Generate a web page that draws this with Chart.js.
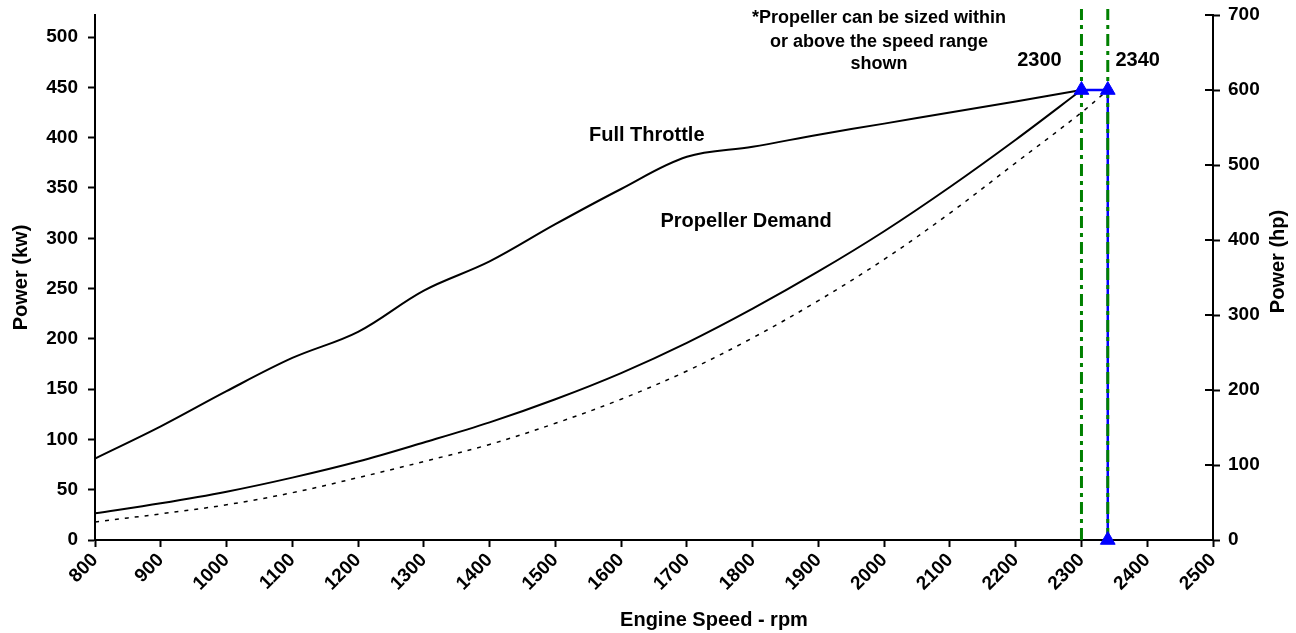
<!DOCTYPE html>
<html><head><meta charset="utf-8">
<script src="https://cdn.jsdelivr.net/npm/chart.js@4.4.0/dist/chart.umd.min.js"></script>
<style>html,body{margin:0;padding:0;background:#fff;}#wrap{width:1296px;height:633px;}</style>
</head><body><div id="wrap"><canvas id="c" width="1296" height="633"></canvas></div>
<script>
// ---- data ----
const rpm = [800,900,1000,1100,1200,1300,1400,1500,1600,1700,1800,1900,2000,2100,2200,2300];
const fullThrottleKw = [81,113,148,181,207,248,277,314,349,381,391,403,414,425,436,447.4];
const propDemandKw   = [26.5,36.5,48,62,78,97,117,140,166,196,230,267,307,351,398,447.4];
const propCubicRpm = [800,900,1000,1100,1200,1300,1400,1500,1600,1700,1800,1900,2000,2100,2200,2300,2340];
const propCubicKw  = [18,26,35,47,62,78,95,116,140,168,201,238,279,325,375,425,447.4];
const markerRpm = [2300,2340,2340];
const markerKw  = [447.4,447.4,0];
const limitRpm = [2300,2340];
const limitTopKw = 528;
const xTickMin = 800, xTickMax = 2500, xTickStep = 100;
const kwMax = 522, kwStep = 50;
const hpMax = 700, hpStep = 100;
const curveLabels = [
  {text:'Full Throttle', rpm:1639, kw:402.7},
  {text:'Propeller Demand', rpm:1790, kw:316.7}
];
const noteLines = ['*Propeller can be sized within','or above the speed range','shown'];
const noteKw = [518.7,495.5,473.3];
const noteRpm = 1992;
const limitLabels = [{text:'2300', rpm:2236, kw:476.3},{text:'2340', rpm:2385.5, kw:476.3}];
const xTitle = 'Engine Speed - rpm';
const yTitle = 'Power (kw)';
const y2Title = 'Power (hp)';

const FONT = '"Liberation Sans", Arial, Helvetica, sans-serif';
const pts = (xs, ys) => xs.map((v,i)=>({x:v, y:ys[i]}));

const textPlugin = {
  id:'texts',
  afterDraw(chart){
    const {ctx, scales:{x, y, y2}, chartArea:ca} = chart;
    ctx.save();
    ctx.fillStyle = '#000';
    ctx.textAlign = 'center';
    ctx.textBaseline = 'middle';
    ctx.font = `bold 20px ${FONT}`;
    curveLabels.forEach(l => ctx.fillText(l.text, x.getPixelForValue(l.rpm), y.getPixelForValue(l.kw)));
    limitLabels.forEach(l => ctx.fillText(l.text, x.getPixelForValue(l.rpm), y.getPixelForValue(l.kw)));
    ctx.font = `bold 18px ${FONT}`;
    noteLines.forEach((t,i) => ctx.fillText(t, x.getPixelForValue(noteRpm), y.getPixelForValue(noteKw[i])));
    ctx.font = `bold 20px ${FONT}`;
    ctx.fillText(xTitle, ca.left + 619, ca.bottom + 80);
    ctx.save();
    ctx.translate(21, (ca.top + ca.bottom)/2);
    ctx.rotate(-Math.PI/2);
    ctx.fillText(yTitle, 0, 0);
    ctx.restore();
    ctx.save();
    ctx.translate(ca.right + 65, (ca.top + ca.bottom)/2 - 16);
    ctx.rotate(-Math.PI/2);
    ctx.fillText(y2Title, 0, 0);
    ctx.restore();
    ctx.strokeStyle = '#000';
    ctx.lineWidth = 2;
    y2.ticks.forEach(t => {
      const py = y2.getPixelForValue(t.value);
      ctx.beginPath(); ctx.moveTo(ca.right - 8, py); ctx.lineTo(ca.right, py); ctx.stroke();
    });
    ctx.restore();
  }
};

const tickFont = {family: FONT, size: 19, weight: 'bold'};
const gridCfg = {drawOnChartArea:false, drawTicks:true, tickLength:7, tickColor:'#000', tickWidth:2};
const borderCfg = {display:true, color:'#000', width:2};
const plain = v => String(v);
const fitY = w => function(s){ s.width = w; s.paddingTop = 0; s.paddingBottom = 0; };

new Chart(document.getElementById('c'), {
  type: 'line',
  data: {
    datasets: [
      {label:'markers', data: pts(markerRpm, markerKw), showLine:false, pointStyle:'triangle',
       pointRadius:8.5, pointBackgroundColor:'#0000ff', pointBorderColor:'#0000ff', pointBorderWidth:1, order:0, yAxisID:'y', clip:false},
      {label:'limit2300', data: pts([limitRpm[0],limitRpm[0]],[0,limitTopKw]), borderColor:'#008000', borderWidth:3,
       borderDash:[12,5,4,5], pointRadius:0, clip:false, order:1, yAxisID:'y'},
      {label:'limit2340', data: pts([limitRpm[1],limitRpm[1]],[0,limitTopKw]), borderColor:'#008000', borderWidth:3,
       borderDash:[12,5,4,5], pointRadius:0, clip:false, order:1, yAxisID:'y'},
      {label:'markerLine', data: pts(markerRpm, markerKw), borderColor:'#0000ff', borderWidth:2.5, pointRadius:0, order:2, yAxisID:'y'},
      {label:'Full Throttle', data: pts(rpm, fullThrottleKw), borderColor:'#000', borderWidth:2, pointRadius:0,
       tension:0.35, order:3, yAxisID:'y'},
      {label:'Propeller Demand', data: pts(rpm, propDemandKw), borderColor:'#000', borderWidth:2, pointRadius:0,
       tension:0.35, order:3, yAxisID:'y'},
      {label:'Cubic', data: pts(propCubicRpm, propCubicKw), borderColor:'#000', borderWidth:1.5, borderDash:[4,6], pointRadius:0,
       tension:0.35, order:3, yAxisID:'y'}
    ]
  },
  options: {
    responsive:false, animation:false, devicePixelRatio:1,
    layout:{padding:{top:15, left:0, right:0, bottom:0}},
    plugins:{legend:{display:false}, tooltip:{enabled:false}},
    scales:{
      x:{type:'linear', position:'bottom', min:xTickMin, max:xTickMax,
         ticks:{stepSize:xTickStep, maxRotation:45, minRotation:45, font:tickFont, color:'#000', padding:2, callback:plain},
         grid:gridCfg, border:borderCfg, afterFit(s){ s.height = 93; s.paddingLeft = 0; s.paddingRight = 0; }},
      y:{type:'linear', position:'left', min:0, max:kwMax,
         ticks:{stepSize:kwStep, includeBounds:false, font:tickFont, color:'#000', padding:10, callback:plain},
         grid:gridCfg, border:borderCfg, afterFit: fitY(95)},
      y2:{type:'linear', position:'right', min:0, max:hpMax,
         ticks:{stepSize:hpStep, font:tickFont, color:'#000', padding:8, callback:plain},
         grid:gridCfg, border:borderCfg, afterFit: fitY(83)}
    }
  },
  plugins:[textPlugin]
});
</script>
</body></html>
